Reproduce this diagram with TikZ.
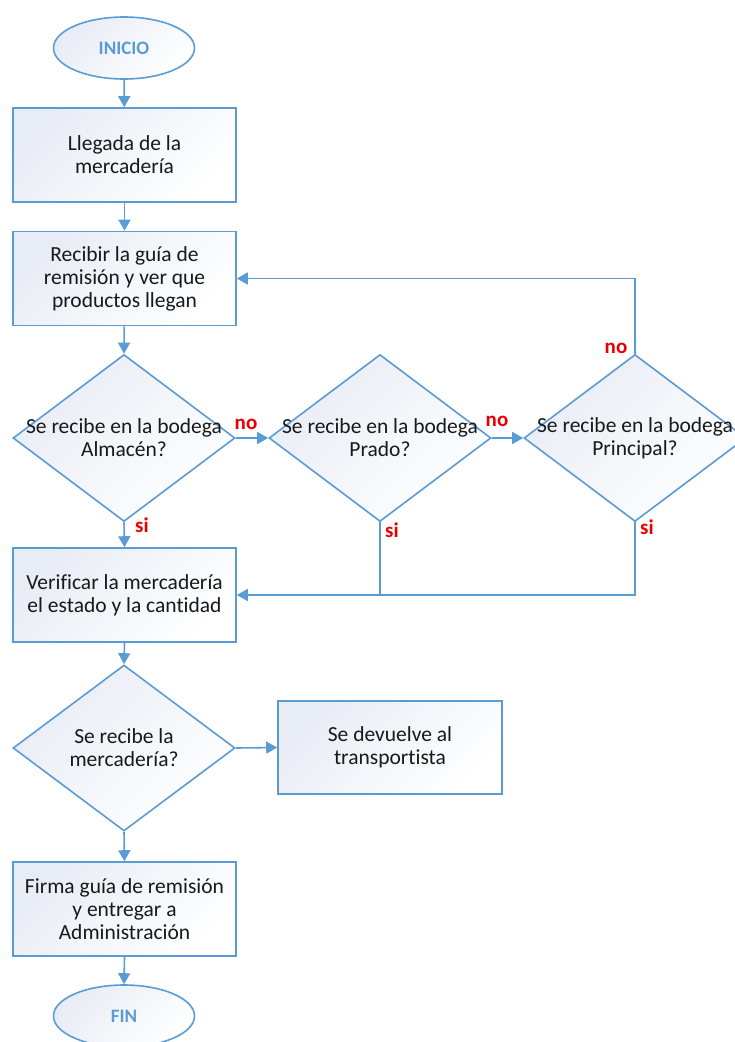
\documentclass[tikz,border=0pt]{standalone}
\usepackage{fontspec}
\setmainfont{Carlito}[RawFeature={-liga;-clig;-calt}]
\usetikzlibrary{shapes.geometric,arrows.meta}
\definecolor{lineblue}{RGB}{91,155,213}
\definecolor{shadetop}{RGB}{232,236,245}
\definecolor{txt}{RGB}{25,25,25}
\definecolor{labred}{RGB}{235,0,0}
\begin{document}
\begin{tikzpicture}[x=1pt,y=-1pt,
 base/.style={draw=lineblue, line width=1.6pt, top color=shadetop, bottom color=white, shading angle=45, text=txt, font=\fontsize{21.5}{23}\selectfont, align=center, inner sep=0pt},
 procbox/.style={base, rectangle, minimum width=223pt, minimum height=94pt},
 term/.style={base, ellipse, minimum width=141pt, minimum height=62pt, text=lineblue, font=\bfseries\fontsize{19}{20}\selectfont},
 decide/.style={base, diamond, minimum width=222pt, minimum height=167pt},
 dtext/.style={text=txt, font=\fontsize{21.5}{23}\selectfont, align=center, inner sep=0pt},
 flow/.style={draw=lineblue, line width=1.6pt, -{Triangle[length=11pt,width=12pt]}},
 plain/.style={draw=lineblue, line width=1.6pt},
 ans/.style={text=labred, font=\bfseries\fontsize{21}{22}\selectfont, inner sep=0pt}
]
\useasboundingbox (0,0) rectangle (734,1042);

\node[term] (inicio) at (124,48) {INICIO};
\node[procbox] (b1) at (124.5,155) {Llegada de la\\mercadería};
\node[procbox] (b2) at (124.5,278.5) {Recibir la guía de\\remisión y ver que\\productos llegan};
\node[decide, label={[dtext]center:{Se recibe en la bodega\\Almacén?}}] (d1) at (124,438) {};
\node[decide, label={[dtext]center:{Se recibe en la bodega\\Prado?}}] (d2) at (380,438) {};
\node[decide, label={[dtext]center:{Se recibe en la bodega\\Principal?}}] (d3) at (635,438) {};
\node[procbox] (b3) at (124.5,595) {Verificar la mercadería\\el estado y la cantidad};
\node[decide, minimum height=166pt, label={[dtext]center:{Se recibe la\\mercadería?}}] (d4) at (124,748) {};
\node[procbox, minimum width=224pt, minimum height=93pt] (b5) at (390,747.5) {Se devuelve al\\transportista};
\node[procbox] (b6) at (124.5,909) {Firma guía de remisión\\y entregar a\\Administración};
\node[term] (fin) at (124,1016) {FIN};

\draw[flow] (inicio) -- (b1);
\draw[flow] (b1) -- (b2);
\draw[flow] (b2) -- (d1.north);
\draw[flow] (d1.east) -- (d2.west);
\draw[flow] (d2.east) -- (d3.west);
\draw[flow] (d3.north) |- (b2.east);
\draw[flow] (d1.south) -- (b3.north);
\coordinate (j2) at (d2.south |- b3.east);
\draw[plain] (d2.south) -- (j2);
\draw[flow] (d3.south) |- (b3.east);
\draw[flow] (b3.south) -- (d4.north);
\draw[flow] (d4.east) -- (b5.west);
\draw[flow] (d4.south) -- (b6.north);
\draw[flow] (b6.south) -- (fin.north);

\node[ans] (no1) at (246,424) {no};
\node[ans] (no2) at (497,421) {no};
\node[ans] (no3) at (616,348) {no};
\node[ans] (si1) at (142,525) {si};
\node[ans] (si2) at (392,530) {si};
\node[ans] (si3) at (647,527) {si};
\end{tikzpicture}
\end{document}
